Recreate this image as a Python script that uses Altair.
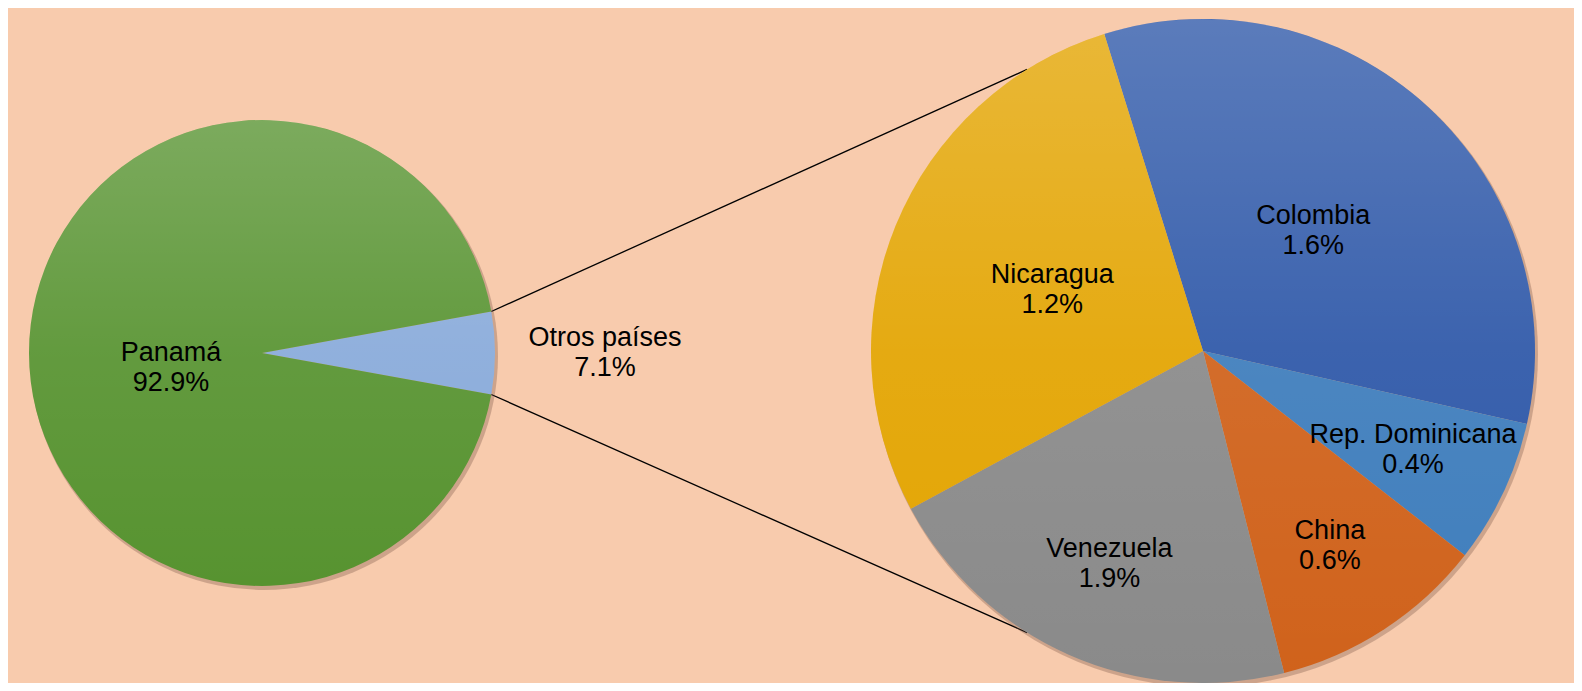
import math
import altair as alt
import pandas as pd

# ---------------- data ----------------
# main pie
main_names = ["Otros países", "Panamá"]
main_share = [5.7, 94.3]          # slice sizes as drawn (angles measured on the picture)
main_labels = ["7.1%", "92.9%"]   # labels as printed

# secondary pie (breakdown of "Otros países"), clockwise from the top
sub_names = ["Colombia", "Rep. Dominicana", "China", "Venezuela", "Nicaragua"]
sub_share = [1.9, 0.4, 0.6, 1.2, 1.6]                  # slice sizes as drawn
sub_labels = ["1.6%", "0.4%", "0.6%", "1.9%", "1.2%"]  # labels as printed

# ---------------- styles / layout ----------------
W, H = 1566, 675
BG = "#F8CBAD"
FONT = "Liberation Sans"
FS = 27
LH = 30
TAU = 2 * math.pi

main_colors = ["#88AADA", "#579330"]
sub_colors = ["#2D57A8", "#3E7DBC", "#D0621B", "#8A8A8A", "#E3A400"]

L_CX, L_CY, L_R = 254, 345, 233
R_CX, R_CY, R_R = 1195, 343, 332
SUB_START_DEG = 342.7
OUT_LABEL_R = 343
IN_LABEL_R = 91

main_df = pd.DataFrame({"name": main_names, "mv": main_share, "pct": main_labels,
                        "idx": list(range(len(main_names)))})
main_df["label"] = main_df["name"] + "\n" + main_df["pct"]
sub_df = pd.DataFrame({"sname": sub_names, "sv": sub_share, "pct": sub_labels,
                       "sidx": list(range(len(sub_names)))})
sub_df["label"] = sub_df["sname"] + "\n" + sub_df["pct"]

frac_other = main_share[0] / sum(main_share)
l_start = math.radians(90) - frac_other * TAU / 2
r_start = math.radians(SUB_START_DEG)

main_theta = alt.Theta("mv:Q", stack=True, scale=alt.Scale(range=[l_start, l_start + TAU]))
sub_theta = alt.Theta("sv:Q", stack=True, scale=alt.Scale(range=[r_start, r_start + TAU]))

main_color = alt.Color("name:N", scale=alt.Scale(domain=main_names, range=main_colors), legend=None)
sub_color = alt.Color("sname:N", scale=alt.Scale(domain=sub_names, range=sub_colors), legend=None)

gloss = alt.LinearGradient(
    gradient="linear", x1=0, y1=0, x2=0, y2=1,
    stops=[alt.GradientStop(offset=0, color="rgba(255,255,255,0.22)"),
           alt.GradientStop(offset=0.5, color="rgba(255,255,255,0.07)"),
           alt.GradientStop(offset=1, color="rgba(255,255,255,0)")],
)

one = pd.DataFrame({"t": [1]})


def shadow(cx, cy, r):
    return alt.Chart(one).mark_arc(radius=r + 1, color="#6b4a3a", opacity=0.3).encode(
        theta=alt.Theta("t:Q"), x=alt.value(cx + 2), y=alt.value(cy + 3))


def overlay(cx, cy, r):
    return alt.Chart(one).mark_arc(radius=r, fill=gloss).encode(
        theta=alt.Theta("t:Q"), x=alt.value(cx), y=alt.value(cy))


# connector lines from the "Otros" wedge edge to the secondary pie
a_up = l_start
a_lo = l_start + frac_other * TAU
b_up = math.radians(328)
b_lo = math.radians(212)
conn = pd.DataFrame({
    "x": [L_CX + L_R * math.sin(a_up), L_CX + L_R * math.sin(a_lo)],
    "y": [L_CY - L_R * math.cos(a_up), L_CY - L_R * math.cos(a_lo)],
    "x2": [R_CX + R_R * math.sin(b_up), R_CX + R_R * math.sin(b_lo)],
    "y2": [R_CY - R_R * math.cos(b_up), R_CY - R_R * math.cos(b_lo)],
})
rules = alt.Chart(conn).mark_rule(color="#000000", strokeWidth=1.3).encode(
    x=alt.X("x:Q", scale=None), y=alt.Y("y:Q", scale=None),
    x2="x2:Q", y2="y2:Q")

main_arc = alt.Chart(main_df).mark_arc(radius=L_R, strokeWidth=0).encode(
    theta=main_theta, color=main_color, order=alt.Order("idx:Q"),
    x=alt.value(L_CX), y=alt.value(L_CY))

sub_arc = alt.Chart(sub_df).mark_arc(radius=R_R, strokeWidth=0).encode(
    theta=sub_theta, color=sub_color, order=alt.Order("sidx:Q"),
    x=alt.value(R_CX), y=alt.value(R_CY))

text_kw = dict(font=FONT, fontSize=FS, lineHeight=LH, lineBreak="\n", color="#000000",
               align="center", baseline="middle")


def mid_text(df, val, idx, start):
    """Text chart with theta = middle of each slice (fraction of the total)."""
    return alt.Chart(df).transform_joinaggregate(
        total=f"sum({val})"
    ).transform_window(
        cum=f"sum({val})", sort=[alt.SortField(idx)], frame=[None, 0]
    ).transform_calculate(
        mid=f"(datum.cum - datum.{val} / 2) / datum.total"
    ), alt.Theta("mid:Q", stack=False,
                 scale=alt.Scale(domain=[0, 1], range=[start, start + TAU]))


base_l, th_l = mid_text(main_df, "mv", "idx", l_start)
other_text = base_l.transform_calculate(
    t1="datum.idx == 0 ? datum.label : ''"
).mark_text(dy=-15, **text_kw).encode(
    theta=th_l, text="t1:N",
    radius=alt.value(OUT_LABEL_R), x=alt.value(L_CX), y=alt.value(L_CY))

pan_text = base_l.transform_calculate(
    t2="datum.idx == 1 ? datum.label : ''"
).mark_text(dy=0, **text_kw).encode(
    theta=th_l, text="t2:N",
    radius=alt.value(IN_LABEL_R), x=alt.value(L_CX), y=alt.value(L_CY))

base_r, th_r = mid_text(sub_df, "sv", "sidx", r_start)
sub_text = base_r.transform_calculate(
    rr=f"datum.sv > 1.4 ? {0.49 * R_R} : {0.70 * R_R}"
).mark_text(dy=-15, **text_kw).encode(
    theta=th_r, text="label:N",
    radius=alt.Radius("rr:Q", scale=None), x=alt.value(R_CX), y=alt.value(R_CY))

chart = alt.layer(
    rules,
    shadow(L_CX, L_CY, L_R), main_arc, overlay(L_CX, L_CY, L_R),
    shadow(R_CX, R_CY, R_R), sub_arc, overlay(R_CX, R_CY, R_R),
    other_text, pan_text, sub_text,
).resolve_scale(theta="independent", color="independent").properties(
    width=W, height=H, background=BG, padding=0, autosize="none"
).configure_view(strokeWidth=0)

chart.save("out.html", embed_options={"renderer": "svg", "actions": False})
